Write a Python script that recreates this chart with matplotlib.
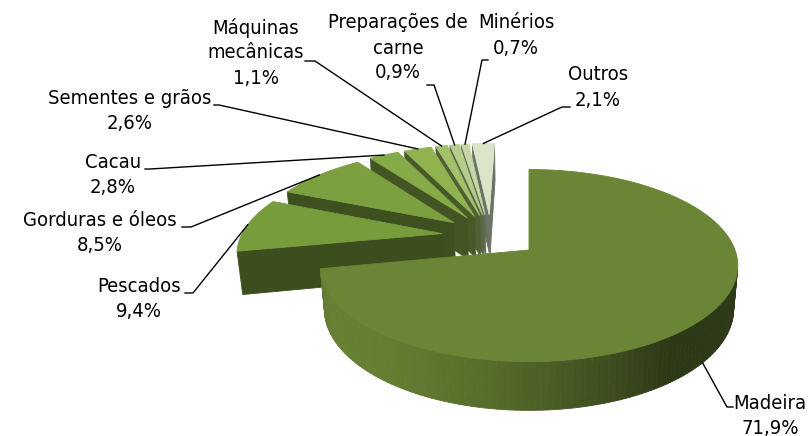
import numpy as np
import matplotlib
matplotlib.use("Agg")
import matplotlib.pyplot as plt
from matplotlib.patches import Polygon
from matplotlib.colors import to_rgb

# ---------------- data ----------------
categories = ["Madeira", "Pescados", "Gorduras e óleos", "Cacau", "Sementes e grãos",
              "Máquinas\nmecânicas", "Preparações de\ncarne", "Minérios", "Outros"]
shares = [71.9, 9.4, 8.5, 2.8, 2.6, 1.1, 0.9, 0.7, 2.1]
pct_labels = ["71,9%", "9,4%", "8,5%", "2,8%", "2,6%", "1,1%", "0,9%", "0,7%", "2,1%"]
top_colors = ["#6a8535", "#789b3c", "#7c9f3f", "#86aa47", "#90b350",
              "#a3c26a", "#b4cd8a", "#c5d7a6", "#d9e4c8"]

# ---------------- label layout (pixels) ----------------
label_cx = [770, 139, 100, 113, 130, 256, 398, 516, 598]
label_y0 = [403, 286, 220, 162, 98, 28, 23, 23, 75]
label_pt = [(733, 407), (185, 293), (182, 227), (145, 169), (214, 105),
            (305, 61), (427, 85), (488, 60), (570, 107)]
label_elbow = [(727, 407), (193, 293), (191, 227), (150, 169), (219, 105),
               (315, 61), (434, 85), (482, 60), (562, 107)]
line_gap = 25

W, H = 811, 436
fig = plt.figure(figsize=(W / 100, H / 100), dpi=100)
ax = fig.add_axes([0, 0, 1, 1])
ax.set_xlim(0, W)
ax.set_ylim(H, 0)
ax.axis("off")

# ---------------- 3D pie geometry ----------------
elev = np.radians(27)
cam_dist = 5.5
explode = 0.245
thick = 0.24
scale = 206
x0, y0 = 529, 250

vals = np.array(shares, dtype=float)
edges = np.concatenate([[0], np.cumsum(vals) / vals.sum()]) * 2 * np.pi
mids = (edges[:-1] + edges[1:]) / 2
offs = explode * np.column_stack([np.sin(mids), np.cos(mids)])

fwd = np.array([0.0, np.cos(elev), -np.sin(elev)])
upv = np.array([0.0, np.sin(elev), np.cos(elev)])
rgt = np.array([1.0, 0.0, 0.0])
target = np.array([offs[0, 0], offs[0, 1], thick])
cam = target - cam_dist * fwd

light = np.array([-0.75, -0.55, 0.35])
light /= np.linalg.norm(light)


def project(P):
    P = np.atleast_2d(P)
    rel = P - cam
    d = rel @ fwd
    u = (rel @ rgt) / d * cam_dist
    v = (rel @ upv) / d * cam_dist
    return np.column_stack([x0 + scale * u, y0 - scale * v])


def shade(color, f):
    c = np.array(to_rgb(color)) * f
    return tuple(np.clip(c, 0, 1))


def facing(n, P):
    return np.dot(n, cam - P) > 0


slices = []
for i in range(len(vals)):
    t0, t1 = edges[i], edges[i + 1]
    n = max(4, int(np.degrees(t1 - t0) / 1.5))
    t = np.linspace(t0, t1, n)
    ox, oy = offs[i]
    arc_top = np.column_stack([ox + np.sin(t), oy + np.cos(t), np.full(n, thick)])
    arc_bot = arc_top.copy()
    arc_bot[:, 2] = 0
    apex_top = np.array([ox, oy, thick])
    apex_bot = np.array([ox, oy, 0.0])
    faces = []
    for j in range(n - 1):
        tm = (t[j] + t[j + 1]) / 2
        nrm = np.array([np.sin(tm), np.cos(tm), 0.0])
        quad = np.array([arc_top[j], arc_top[j + 1], arc_bot[j + 1], arc_bot[j]])
        if facing(nrm, quad.mean(axis=0)):
            f = 0.42 + 0.58 * max(0.0, nrm @ light)
            faces.append((quad, shade(top_colors[i], f)))
    n0 = np.array([-np.cos(t0), np.sin(t0), 0.0])
    q0 = np.array([apex_top, arc_top[0], arc_bot[0], apex_bot])
    if facing(n0, q0.mean(axis=0)):
        faces.append((q0, shade(top_colors[i], 0.5)))
    n1 = np.array([np.cos(t1), -np.sin(t1), 0.0])
    q1 = np.array([apex_top, arc_top[-1], arc_bot[-1], apex_bot])
    if facing(n1, q1.mean(axis=0)):
        faces.append((q1, shade(top_colors[i], 0.5)))
    faces.sort(key=lambda fc: -np.linalg.norm(fc[0].mean(axis=0) - cam))
    top = np.vstack([apex_top, arc_top])
    faces.append((top, to_rgb(top_colors[i])))
    centroid = np.array([ox + 0.5 * np.sin(mids[i]), oy + 0.5 * np.cos(mids[i]), thick / 2])
    slices.append((np.linalg.norm(centroid - cam), faces))

slices.sort(key=lambda s: -s[0])
z = 1
for _, faces in slices:
    for quad, col in faces:
        ax.add_patch(Polygon(project(quad), closed=True, facecolor=col,
                             edgecolor=col, linewidth=0.6, zorder=z))
        z += 1

# ---------------- labels & leader lines ----------------
font = dict(family="DejaVu Sans", fontstretch="condensed", fontsize=14.5, color="black")
for i in range(len(vals)):
    lines = categories[i].split("\n") + [pct_labels[i]]
    for k, s in enumerate(lines):
        ax.text(label_cx[i], label_y0[i] + k * line_gap, s, ha="center", va="center",
                zorder=500, **font)
    m = mids[i]
    if i == 0:
        P = np.array([offs[i, 0] + np.sin(m), offs[i, 1] + np.cos(m), 0.0])
    else:
        P = np.array([offs[i, 0] + np.sin(m), offs[i, 1] + np.cos(m), thick])
    anc = project(P)[0]
    xs = [label_pt[i][0], label_elbow[i][0], anc[0]]
    ys = [label_pt[i][1], label_elbow[i][1], anc[1]]
    ax.plot(xs, ys, color="black", linewidth=1.0, zorder=400)

fig.savefig("out.png", dpi=100)
